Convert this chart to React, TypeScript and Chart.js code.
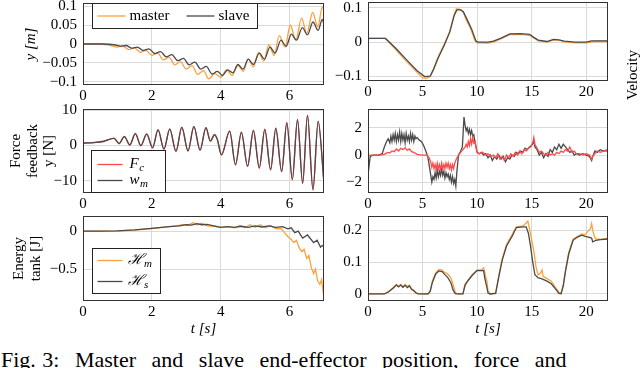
import React, { useEffect, useRef } from 'react';
import { Chart, registerables } from 'chart.js';

Chart.register(...registerables);

const FONT = '"Liberation Serif", "DejaVu Serif", serif';
Chart.defaults.font.family = FONT;
const ORANGE = '#fba13d';
const DARK = '#4a4a4a';
const RED = '#ff4a4a';
const GRID = '#dadada';
const FRAME = '#333333';

// ---------- tick labels ----------
const X_TICKS_LEFT = [0, 2, 4, 6];
const X_TICKS_RIGHT = [0, 5, 10, 15, 20];
const Y_TICKS_POS = [-0.1, -0.05, 0, 0.05, 0.1];
const Y_TICKS_FORCE = [-10, 0, 10];
const Y_TICKS_ENERGY = [-0.5, 0];
const Y_TICKS_VEL = [-0.1, 0, 0.1];
const Y_TICKS_FORCE_R = [-2, 0, 2];
const Y_TICKS_ENERGY_R = [0, 0.1, 0.2];

// ---------- legend labels ----------
const LEGEND_POS = ['master', 'slave'];
const LEGEND_FORCE = [['F', 'c'], ['w', 'm']];
const LEGEND_ENERGY = [['\u210B', 'm'], ['\u210B', 's']];

// ---------- left column: t in [0, 7] ----------
const POS_MASTER: [number, number][] = [
  [0, 0], [0.4, 0], [0.7, -0.002], [1.0, -0.008], [1.15, -0.005], [1.33, -0.015], [1.5, -0.01],
  [1.67, -0.022], [1.83, -0.017], [2.0, -0.03], [2.17, -0.024], [2.33, -0.042], [2.5, -0.035],
  [2.67, -0.055], [2.83, -0.047], [3.0, -0.066], [3.17, -0.057], [3.33, -0.08], [3.5, -0.07],
  [3.65, -0.092], [3.83, -0.078], [4.0, -0.088], [4.17, -0.068], [4.33, -0.083], [4.5, -0.056],
  [4.65, -0.072], [4.8, -0.04], [4.95, -0.06], [5.1, -0.022], [5.25, -0.045], [5.4, -0.002],
  [5.55, -0.03], [5.7, 0.022], [5.87, -0.008], [6.02, 0.05], [6.18, 0.01], [6.35, 0.068],
  [6.5, 0.028], [6.67, 0.083], [6.82, 0.045], [6.95, 0.097], [7.0, 0.088],
];
const POS_SLAVE: [number, number][] = [
  [0, 0], [0.6, 0], [0.9, -0.002], [1.1, -0.006], [1.25, -0.004], [1.42, -0.011], [1.58, -0.008],
  [1.75, -0.017], [1.92, -0.013], [2.08, -0.025], [2.25, -0.02], [2.42, -0.034], [2.58, -0.028],
  [2.75, -0.044], [2.92, -0.038], [3.08, -0.055], [3.25, -0.048], [3.42, -0.066], [3.58, -0.059],
  [3.75, -0.079], [3.9, -0.072], [4.05, -0.083], [4.2, -0.068], [4.35, -0.076], [4.5, -0.054],
  [4.65, -0.066], [4.8, -0.04], [4.95, -0.054], [5.12, -0.024], [5.27, -0.04], [5.43, -0.008],
  [5.58, -0.024], [5.75, 0.01], [5.9, -0.006], [6.05, 0.026], [6.2, 0.01], [6.37, 0.043],
  [6.52, 0.024], [6.68, 0.058], [6.83, 0.036], [6.95, 0.065], [7.0, 0.05],
];
const FORCE_FC: [number, number][] = [
  [0, 0.6], [0.3, 0.8], [0.6, 1.1], [0.9, 2.1], [1.05, 0.5], [1.2, 2.6], [1.36, 0.1], [1.52, 3.4],
  [1.68, -0.1], [1.85, 3.3], [2.02, -0.7], [2.18, 4.5], [2.35, -1.1], [2.52, 4.7], [2.7, -1.7],
  [2.87, 5.2], [3.05, -1.6], [3.22, 5.4], [3.4, -1.4], [3.57, 5.1], [3.7, 1.2], [3.82, 3.1],
  [3.9, 1.7], [4.02, -2.7], [4.26, 4.1], [4.43, -5.5], [4.6, 3.8], [4.78, -5.9], [4.95, 4.3],
  [5.12, -6.4], [5.28, 4.6], [5.45, -6.9], [5.6, 4.9], [5.77, -7.4], [5.92, 6.5], [6.08, -9.7],
  [6.23, 7.4], [6.38, -10.7], [6.52, 8.6], [6.68, -12.6], [6.83, 6.9], [7.0, -10.8],
];
const FORCE_WM: [number, number][] = [
  [0, 0.7], [0.3, 0.8], [0.6, 1.2], [0.9, 2.0], [1.05, 0.6], [1.2, 2.5], [1.36, 0.2], [1.52, 3.3],
  [1.68, 0.0], [1.85, 3.2], [2.02, -0.6], [2.18, 4.4], [2.35, -1.0], [2.52, 4.6], [2.7, -1.6],
  [2.87, 5.1], [3.05, -1.5], [3.22, 5.3], [3.4, -1.3], [3.57, 5.0], [3.7, 1.3], [3.82, 3.0],
  [3.9, 1.8], [4.02, -2.6], [4.26, 4.0], [4.43, -5.4], [4.6, 3.7], [4.78, -5.8], [4.95, 4.2],
  [5.12, -6.3], [5.28, 4.5], [5.45, -6.8], [5.6, 4.8], [5.77, -7.3], [5.92, 6.4], [6.08, -9.6],
  [6.23, 7.3], [6.38, -10.6], [6.52, 8.5], [6.68, -12.4], [6.83, 6.8], [7.0, -10.5],
];
const ENERGY_M: [number, number][] = [
  [0, 0], [0.5, 0], [1, 0.003], [1.5, 0.015], [2, 0.035], [2.3, 0.05], [2.5, 0.06], [2.7, 0.07],
  [2.9, 0.085], [3.05, 0.075], [3.2, 0.115], [3.3, 0.08], [3.45, 0.105], [3.6, 0.07], [3.8, 0.065],
  [4.0, 0.05], [4.2, 0.06], [4.4, 0.045], [4.55, 0.075], [4.7, 0.045], [4.85, 0.085], [5.0, 0.05],
  [5.15, 0.085], [5.3, 0.045], [5.45, 0.075], [5.6, 0.03], [5.75, 0.035], [5.85, -0.02],
  [5.95, -0.07], [6.03, -0.1], [6.13, -0.15], [6.2, -0.12], [6.28, -0.22], [6.36, -0.27],
  [6.42, -0.24], [6.5, -0.36], [6.56, -0.32], [6.63, -0.48], [6.7, -0.56], [6.75, -0.5],
  [6.82, -0.66], [6.88, -0.7], [6.93, -0.64], [7.0, -0.88],
];
const ENERGY_S: [number, number][] = [
  [0, 0], [0.5, 0], [1, 0.005], [1.5, 0.018], [2, 0.038], [2.5, 0.06], [2.8, 0.07], [3.0, 0.085],
  [3.15, 0.08], [3.3, 0.1], [3.45, 0.085], [3.6, 0.09], [3.8, 0.07], [4.0, 0.05], [4.2, 0.06],
  [4.4, 0.05], [4.6, 0.065], [4.8, 0.05], [5.0, 0.07], [5.2, 0.055], [5.4, 0.07], [5.6, 0.05],
  [5.8, 0.06], [5.95, 0.03], [6.05, 0.045], [6.15, -0.02], [6.25, 0.0], [6.38, -0.09],
  [6.52, -0.05], [6.7, -0.15], [6.8, -0.12], [6.9, -0.21], [6.95, -0.19], [7.0, -0.2],
];

// ---------- right column: t in [0, 22] ----------
const VEL_M: [number, number][] = [
  [0, 0.01], [0.3, 0.011], [1.5, 0.011], [1.7, 0.008], [2.5, -0.02], [3.5, -0.055], [4.5, -0.088],
  [5.0, -0.103], [5.3, -0.106], [5.7, -0.1], [6.0, -0.078], [6.4, -0.045], [7.0, -0.005],
  [7.5, 0.032], [7.9, 0.08], [8.1, 0.097], [8.4, 0.096], [8.7, 0.09], [9.0, 0.065], [9.4, 0.04],
  [9.8, 0.005], [10.0, -0.002], [11.0, -0.003], [11.5, 0.0], [12.2, 0.01], [13.0, 0.022],
  [14.0, 0.023], [14.8, 0.02], [15.2, 0.012], [15.6, 0.004], [16.4, 0.0], [17.0, 0.006],
  [17.5, 0.006], [18.0, 0.001], [19.0, -0.002], [20.0, -0.002], [20.6, 0.001], [21.0, 0.002],
  [22.0, 0.002],
];
const VEL_S: [number, number][] = [
  [0, 0.011], [1.6, 0.011], [2.5, -0.016], [3.5, -0.05], [4.5, -0.083], [5.2, -0.1], [5.7, -0.099],
  [6.0, -0.08], [6.4, -0.048], [7.0, -0.008], [7.5, 0.03], [7.9, 0.078], [8.15, 0.094],
  [8.5, 0.094], [8.75, 0.088], [9.1, 0.065], [9.5, 0.038], [9.9, 0.003], [10.1, 0.0], [11.0, 0.0],
  [11.5, 0.003], [12.2, 0.012], [13.0, 0.024], [14.0, 0.025], [14.8, 0.023], [15.2, 0.014],
  [15.6, 0.006], [16.4, 0.002], [17.0, 0.008], [17.5, 0.007], [18.0, 0.003], [19.0, 0.0],
  [20.0, 0.0], [20.5, 0.004], [21.0, 0.004], [22.0, 0.004],
];
const FORCE_WM_R: [number, number][] = [
  [0, -0.1], [0.1, -0.8], [0.2, -0.1], [0.5, 0], [1.0, 0], [1.3, 0.1], [1.5, 0.6], [1.7, 1.0],
  [1.85, 1.2], [2.0, 0.9], [2.1, 1.4], [2.2, 1.0], [2.3, 1.5], [2.4, 1.1], [2.5, 1.6], [2.6, 1.0],
  [2.7, 1.5], [2.8, 1.1], [2.9, 1.7], [3.0, 1.0], [3.1, 1.6], [3.2, 1.1], [3.3, 1.5], [3.4, 0.9],
  [3.5, 1.6], [3.6, 1.1], [3.7, 1.4], [3.8, 1.0], [3.9, 1.6], [4.0, 1.1], [4.1, 1.5], [4.2, 1.0],
  [4.3, 1.4], [4.4, 1.2], [4.5, 1.3], [4.7, 1.1], [4.9, 1.0], [5.1, 0.7], [5.3, 0.3], [5.5, -0.2],
  [5.7, -1.2], [5.85, -2.0], [5.95, -1.6], [6.05, -1.8], [6.15, -1.3], [6.25, -1.7], [6.35, -1.1],
  [6.45, -1.6], [6.55, -1.2], [6.65, -1.5], [6.75, -1.0], [6.85, -1.5], [6.95, -1.2], [7.05, -1.7],
  [7.15, -1.3], [7.25, -1.6], [7.35, -1.4], [7.45, -1.8], [7.55, -1.5], [7.65, -2.0], [7.75, -1.6],
  [7.85, -2.1], [7.95, -1.8], [8.05, -2.3], [8.15, -1.2], [8.3, 0.0], [8.5, 0.3], [8.65, 0.6],
  [8.8, 2.8], [8.9, 2.2], [9.0, 1.8], [9.1, 2.0], [9.2, 1.6], [9.3, 1.9], [9.4, 1.5], [9.5, 1.8],
  [9.6, 1.4], [9.7, 1.5], [9.8, 1.0], [9.9, 0.6], [10.0, 0.2], [10.2, 0.1], [10.4, 0.2], [10.6, 0.0],
  [10.8, 0.1], [11.0, -0.2], [11.2, 0.0], [11.4, -0.4], [11.6, -0.1], [11.8, -0.3], [12.0, 0.0],
  [12.2, -0.3], [12.4, -0.1], [12.6, -0.5], [12.8, -0.2], [13.0, -0.3], [13.2, 0.0], [13.4, -0.1],
  [13.6, 0.2], [13.8, 0.1], [14.0, 0.3], [14.2, 0.2], [14.4, 0.5], [14.6, 0.4], [14.8, 0.6],
  [15.0, 0.7], [15.2, 1.0], [15.3, 0.6], [15.5, 0.4], [15.7, 0.0], [15.9, 0.2], [16.1, -0.2],
  [16.3, 0.1], [16.5, -0.1], [16.7, 0.4], [16.9, 0.2], [17.1, 0.6], [17.3, 0.4], [17.5, 0.8],
  [17.7, 0.5], [17.9, 0.8], [18.1, 0.6], [18.3, 0.4], [18.5, 0.2], [18.7, 0.3], [18.9, 0.0],
  [19.1, 0.1], [19.4, 0.0], [19.7, 0.1], [20.0, 0.0], [20.3, -0.1], [20.5, -0.4], [20.6, -0.1],
  [20.8, 0.3], [21.0, 0.2], [21.3, 0.4], [21.6, 0.3], [22.0, 0.4],
];
const FORCE_FC_R: [number, number][] = [
  [0, 0], [1.0, 0], [1.5, 0.05], [1.8, 0.2], [2.0, 0.15], [2.2, 0.3], [2.4, 0.25], [2.6, 0.45],
  [2.8, 0.3], [3.0, 0.5], [3.2, 0.4], [3.4, 0.55], [3.6, 0.35], [3.8, 0.45], [4.0, 0.25], [4.2, 0.2],
  [4.5, 0.05], [5.0, 0.0], [5.4, 0.0], [5.6, -0.2], [5.75, -0.5], [5.85, -0.9], [5.95, -0.6],
  [6.05, -1.0], [6.15, -0.7], [6.25, -1.1], [6.35, -0.6], [6.45, -1.0], [6.55, -0.7], [6.65, -1.1],
  [6.75, -0.6], [6.85, -1.0], [6.95, -0.7], [7.05, -1.0], [7.15, -0.6], [7.25, -0.9], [7.35, -0.6],
  [7.45, -1.0], [7.55, -0.7], [7.65, -1.1], [7.75, -0.7], [7.85, -1.0], [7.95, -0.6], [8.1, -0.3],
  [8.3, 0.0], [8.5, 0.2], [8.7, 0.4], [8.9, 0.6], [9.0, 0.8], [9.1, 0.6], [9.2, 1.0], [9.3, 0.7],
  [9.4, 1.2], [9.5, 0.8], [9.6, 1.3], [9.7, 0.9], [9.8, 1.0], [9.9, 0.6], [10.0, 0.2], [10.2, 0.1],
  [10.5, 0.2], [10.8, 0.0], [11.0, 0.1], [11.3, -0.1], [11.5, 0.0], [11.7, -0.2], [11.9, 0.1],
  [12.1, -0.3], [12.3, -0.1], [12.5, -0.4], [12.7, 0.0], [12.9, -0.2], [13.1, 0.1], [13.3, -0.1],
  [13.5, 0.2], [13.7, 0.0], [13.9, 0.3], [14.1, 0.1], [14.3, 0.4], [14.5, 0.3], [14.7, 0.5],
  [14.9, 0.6], [15.1, 0.9], [15.2, 1.3], [15.3, 0.8], [15.5, 0.5], [15.7, 0.2], [15.9, 0.3],
  [16.1, 0.1], [16.3, 0.0], [16.5, 0.2], [16.7, 0.0], [16.9, 0.1], [17.1, 0.0], [17.3, 0.2],
  [17.5, 0.1], [17.7, 0.3], [17.9, 0.2], [18.1, 0.4], [18.3, 0.3], [18.5, 0.6], [18.7, 0.2],
  [18.9, 0.3], [19.1, 0.1], [19.4, 0.1], [19.7, 0.0], [20.0, 0.1], [20.3, 0.0], [20.5, -0.3],
  [20.6, -0.1], [20.8, 0.1], [21.0, 0.3], [21.3, 0.2], [21.6, 0.3], [22.0, 0.3],
];
const ENERGY_M_R: [number, number][] = [
  [0, 0], [1.5, 0], [1.9, 0.008], [2.3, 0.02], [2.6, 0.03], [2.8, 0.024], [3.0, 0.03], [3.2, 0.022],
  [3.4, 0.03], [3.6, 0.024], [3.8, 0.028], [4.0, 0.016], [4.2, 0.012], [4.4, 0.004], [4.6, 0.001],
  [5.5, 0.0], [5.7, 0.01], [5.9, 0.04], [6.2, 0.065], [6.5, 0.077], [6.8, 0.075], [7.0, 0.068],
  [7.3, 0.063], [7.6, 0.05], [7.8, 0.03], [8.0, 0.005], [8.2, 0.0], [8.7, 0.0], [8.9, 0.03],
  [9.2, 0.045], [9.6, 0.062], [10.0, 0.075], [10.4, 0.075], [10.6, 0.082], [10.75, 0.06],
  [10.9, 0.04], [11.0, 0.01], [11.2, 0.0], [11.7, 0.003], [12.0, 0.06], [12.3, 0.11], [12.7, 0.155],
  [13.2, 0.185], [13.6, 0.21], [14.2, 0.213], [14.5, 0.222], [14.65, 0.228], [14.8, 0.205],
  [15.0, 0.17], [15.2, 0.135], [15.4, 0.085], [15.6, 0.06], [15.8, 0.065], [15.95, 0.075],
  [16.05, 0.055], [16.4, 0.048], [16.8, 0.04], [17.2, 0.02], [17.5, 0.005], [17.7, 0.003],
  [17.9, 0.03], [18.1, 0.075], [18.4, 0.13], [18.8, 0.172], [19.2, 0.18], [19.6, 0.188],
  [19.9, 0.185], [20.2, 0.198], [20.4, 0.205], [20.5, 0.22], [20.6, 0.2], [20.75, 0.18],
  [20.9, 0.172], [21.3, 0.171], [22.0, 0.174],
];
const ENERGY_S_R: [number, number][] = [
  [0, 0], [1.5, 0], [1.9, 0.007], [2.3, 0.018], [2.6, 0.028], [2.8, 0.022], [3.0, 0.028],
  [3.2, 0.021], [3.4, 0.027], [3.6, 0.02], [3.8, 0.025], [4.0, 0.014], [4.2, 0.01], [4.4, 0.003],
  [4.6, 0.0], [5.5, 0.0], [5.7, 0.008], [5.9, 0.036], [6.2, 0.062], [6.5, 0.072], [6.8, 0.07],
  [7.0, 0.062], [7.3, 0.052], [7.6, 0.035], [7.8, 0.012], [8.0, 0.001], [8.2, 0.0], [8.7, 0.0],
  [8.9, 0.028], [9.2, 0.043], [9.6, 0.06], [10.0, 0.073], [10.6, 0.073], [10.7, 0.05], [10.9, 0.02],
  [11.0, 0.003], [11.2, 0.0], [11.7, 0.002], [12.0, 0.055], [12.3, 0.105], [12.7, 0.15],
  [13.2, 0.18], [13.6, 0.208], [14.2, 0.21], [14.5, 0.21], [14.7, 0.19], [14.9, 0.15], [15.1, 0.1],
  [15.3, 0.06], [15.6, 0.05], [15.9, 0.048], [16.4, 0.04], [16.8, 0.032], [17.2, 0.015],
  [17.5, 0.002], [17.7, 0.001], [17.9, 0.025], [18.1, 0.07], [18.4, 0.125], [18.8, 0.168],
  [19.2, 0.178], [19.6, 0.184], [19.9, 0.18], [20.2, 0.178], [20.5, 0.175], [20.6, 0.163],
  [20.9, 0.168], [21.3, 0.17], [22.0, 0.172],
];

// ---------- helpers ----------
type Series = { data: [number, number][]; color: string; order: number; smooth?: boolean };
type LegendItem = { color: string; text: string; sub?: string; italic?: boolean; dx: number; dy: number };
type LegendSpec = { x: number; y: number; w: number; h: number; len: number; gap: number; items: LegendItem[] };
type Note = { text: string; x: number; y: number };
type Panel = {
  left: number; top: number; w: number; h: number;
  pad: { top: number; right: number; bottom: number; left: number };
  yWidth: number; xHeight: number;
  xMin: number; xMax: number; yMin: number; yMax: number;
  xTicks: number[]; yTicks: number[];
  series: Series[];
  yTitle?: { text: string | string[]; italic?: boolean; pad: number };
  xTitle?: { text: string; pad: number };
  legend?: LegendSpec;
  notes?: Note[];
};

const fmt = (v: number) => (v < 0 ? '\u2212' + String(-v) : String(v));

const framePlugin = {
  id: 'frame',
  afterDatasetsDraw(chart: any) {
    const { ctx, chartArea: a } = chart;
    ctx.save();
    ctx.strokeStyle = FRAME;
    ctx.lineWidth = 1;
    ctx.strokeRect(Math.round(a.left) + 0.5, Math.round(a.top) + 0.5, Math.round(a.right - a.left) - 1, Math.round(a.bottom - a.top) - 1);
    ctx.restore();
  },
};

function legendPlugin(spec: LegendSpec) {
  return {
    id: 'boxLegend',
    afterDraw(chart: any) {
      const { ctx, chartArea: a } = chart;
      const x = Math.round(a.left + spec.x) + 0.5;
      const y = Math.round(a.top + spec.y) + 0.5;
      ctx.save();
      ctx.fillStyle = '#ffffff';
      ctx.fillRect(x, y, spec.w, spec.h);
      ctx.strokeStyle = '#222222';
      ctx.lineWidth = 1;
      ctx.strokeRect(x, y, spec.w, spec.h);
      for (const it of spec.items) {
        const ly = y + it.dy;
        ctx.strokeStyle = it.color;
        ctx.lineWidth = 1.3;
        ctx.beginPath();
        ctx.moveTo(x + it.dx, ly);
        ctx.lineTo(x + it.dx + spec.len, ly);
        ctx.stroke();
        ctx.fillStyle = '#000';
        ctx.textBaseline = 'middle';
        ctx.textAlign = 'left';
        ctx.font = `${it.italic ? 'italic ' : ''}15px ${FONT}`;
        const tx = x + it.dx + spec.len + spec.gap;
        ctx.fillText(it.text, tx, ly);
        if (it.sub) {
          const w = ctx.measureText(it.text).width;
          ctx.font = `italic 11px ${FONT}`;
          ctx.fillText(it.sub, tx + w + 0.5, ly + 4);
        }
      }
      ctx.restore();
    },
  };
}

function notesPlugin(notes: Note[]) {
  return {
    id: 'notes',
    afterDraw(chart: any) {
      const { ctx } = chart;
      ctx.save();
      ctx.fillStyle = '#000';
      ctx.font = `15px ${FONT}`;
      ctx.textAlign = 'center';
      ctx.textBaseline = 'middle';
      for (const n of notes) {
        ctx.save();
        ctx.translate(n.x, n.y);
        ctx.rotate(-Math.PI / 2);
        ctx.fillText(n.text, 0, 0);
        ctx.restore();
      }
      ctx.restore();
    },
  };
}

function buildConfig(s: Panel): any {
  const tickFont = { family: FONT, size: 15 };
  const plugins: any[] = [framePlugin];
  if (s.legend) plugins.push(legendPlugin(s.legend));
  if (s.notes) plugins.push(notesPlugin(s.notes));
  return {
    type: 'line',
    data: {
      datasets: s.series.map((d) => ({
        data: d.data.map(([x, y]) => ({ x, y })),
        borderColor: d.color,
        backgroundColor: d.color,
        borderWidth: 1.3,
        pointRadius: 0,
        fill: false,
        tension: d.smooth ? 0.4 : 0,
        cubicInterpolationMode: d.smooth ? 'monotone' : 'default',
        order: d.order,
      })),
    },
    options: {
      responsive: false,
      maintainAspectRatio: false,
      animation: false,
      events: [],
      layout: { padding: s.pad },
      plugins: { legend: { display: false }, tooltip: { enabled: false } },
      scales: {
        x: {
          type: 'linear',
          min: s.xMin,
          max: s.xMax,
          afterBuildTicks: (sc: any) => { sc.ticks = s.xTicks.map((v) => ({ value: v })); },
          afterFit: (sc: any) => { sc.height = s.xHeight; sc.paddingLeft = 0; sc.paddingRight = 0; },
          grid: { color: GRID, lineWidth: 1, drawTicks: false },
          border: { display: false },
          ticks: { padding: 2, color: '#000', font: tickFont, autoSkip: false, maxRotation: 0, callback: (v: number) => fmt(v) },
          title: s.xTitle
            ? { display: true, text: s.xTitle.text, color: '#000', font: { family: FONT, size: 15, style: 'italic', lineHeight: 1.1 }, padding: { top: 0, bottom: s.xTitle.pad } }
            : { display: false },
        },
        y: {
          type: 'linear',
          min: s.yMin,
          max: s.yMax,
          afterBuildTicks: (sc: any) => { sc.ticks = s.yTicks.map((v) => ({ value: v })); },
          afterFit: (sc: any) => { sc.width = s.yWidth; sc.paddingTop = 0; sc.paddingBottom = 0; },
          grid: { color: GRID, lineWidth: 1, drawTicks: false },
          border: { display: false },
          ticks: { padding: 6, color: '#000', font: tickFont, autoSkip: false, callback: (v: number) => fmt(v) },
          title: s.yTitle
            ? { display: true, text: s.yTitle.text, color: '#000', font: { family: FONT, size: 15, style: s.yTitle.italic ? 'italic' : 'normal', lineHeight: 1.1 }, padding: { top: s.yTitle.pad, bottom: 0 } }
            : { display: false },
        },
      },
    },
    plugins,
  };
}

// ---------- panels ----------
const LEFT_PAD = (top: number) => ({ top, right: 6, bottom: 0, left: 0 });
const RIGHT_PAD = (top: number) => ({ top, right: 32, bottom: 0, left: 0 });

const PANELS: Panel[] = [
  {
    left: 0, top: 0, w: 330, h: 103, pad: LEFT_PAD(3), yWidth: 83, xHeight: 18,
    xMin: 0, xMax: 7, yMin: -0.108, yMax: 0.108, xTicks: X_TICKS_LEFT, yTicks: Y_TICKS_POS,
    series: [
      { data: POS_MASTER, color: ORANGE, order: 2, smooth: true },
      { data: POS_SLAVE, color: DARK, order: 1, smooth: true },
    ],
    yTitle: { text: 'y [m]', italic: true, pad: 23 },
    legend: {
      x: 9, y: 0, w: 165, h: 25, len: 28, gap: 4,
      items: [
        { color: ORANGE, text: LEGEND_POS[0], dx: 5, dy: 12.5 },
        { color: DARK, text: LEGEND_POS[1], dx: 94, dy: 12.5 },
      ],
    },
  },
  {
    left: 0, top: 100, w: 330, h: 111, pad: LEFT_PAD(9), yWidth: 83, xHeight: 18,
    xMin: 0, xMax: 7, yMin: -13.4, yMax: 10.3, xTicks: X_TICKS_LEFT, yTicks: Y_TICKS_FORCE,
    series: [
      { data: FORCE_FC, color: RED, order: 2, smooth: true },
      { data: FORCE_WM, color: DARK, order: 1, smooth: true },
    ],
    yTitle: { text: ['Force', 'feedback', 'y [N]'], pad: 8 },
    legend: {
      x: 8, y: 41, w: 74, h: 42, len: 25, gap: 7,
      items: [
        { color: RED, text: LEGEND_FORCE[0][0], sub: LEGEND_FORCE[0][1], italic: true, dx: 6, dy: 14 },
        { color: DARK, text: LEGEND_FORCE[1][0], sub: LEGEND_FORCE[1][1], italic: true, dx: 6, dy: 30 },
      ],
    },
  },
  {
    left: 0, top: 205, w: 330, h: 135, pad: LEFT_PAD(11), yWidth: 83, xHeight: 39,
    xMin: 0, xMax: 7, yMin: -0.92, yMax: 0.2, xTicks: X_TICKS_LEFT, yTicks: Y_TICKS_ENERGY,
    series: [
      { data: ENERGY_M, color: ORANGE, order: 2 },
      { data: ENERGY_S, color: DARK, order: 1 },
    ],
    yTitle: { text: ['Energy', 'tank [J]'], pad: 11 },
    xTitle: { text: 't [s]', pad: 3 },
    legend: {
      x: 9, y: 32, w: 68, h: 45, len: 25, gap: 5,
      items: [
        { color: ORANGE, text: LEGEND_ENERGY[0][0], sub: LEGEND_ENERGY[0][1], italic: true, dx: 5, dy: 12 },
        { color: DARK, text: LEGEND_ENERGY[1][0], sub: LEGEND_ENERGY[1][1], italic: true, dx: 5, dy: 33 },
      ],
    },
  },
  {
    left: 330, top: 0, w: 310, h: 100, pad: RIGHT_PAD(2), yWidth: 38, xHeight: 19,
    xMin: 0, xMax: 22, yMin: -0.113, yMax: 0.117, xTicks: X_TICKS_RIGHT, yTicks: Y_TICKS_VEL,
    series: [
      { data: VEL_M, color: ORANGE, order: 2 },
      { data: VEL_S, color: DARK, order: 1 },
    ],
    notes: [{ text: 'Velocity', x: 303, y: 75 }],
  },
  {
    left: 330, top: 100, w: 310, h: 111, pad: RIGHT_PAD(9), yWidth: 38, xHeight: 18,
    xMin: 0, xMax: 22, yMin: -2.8, yMax: 3.4, xTicks: X_TICKS_RIGHT, yTicks: Y_TICKS_FORCE_R,
    series: [
      { data: FORCE_WM_R, color: DARK, order: 2 },
      { data: FORCE_FC_R, color: RED, order: 1 },
    ],
  },
  {
    left: 330, top: 205, w: 310, h: 135, pad: RIGHT_PAD(11), yWidth: 38, xHeight: 39,
    xMin: 0, xMax: 22, yMin: -0.022, yMax: 0.244, xTicks: X_TICKS_RIGHT, yTicks: Y_TICKS_ENERGY_R,
    series: [
      { data: ENERGY_M_R, color: ORANGE, order: 2 },
      { data: ENERGY_S_R, color: DARK, order: 1 },
    ],
    xTitle: { text: 't [s]', pad: 3 },
  },
];

const CAPTION_LABEL = 'Fig. 3:';
const CAPTION_TEXT = 'Master and slave end-effector position, force and';

function ChartBox({ spec }: { spec: Panel }) {
  const ref = useRef<HTMLCanvasElement>(null);
  useEffect(() => {
    if (!ref.current) return;
    const chart = new Chart(ref.current, buildConfig(spec));
    return () => chart.destroy();
  }, [spec]);
  return (
    <canvas
      ref={ref}
      width={spec.w}
      height={spec.h}
      style={{ position: 'absolute', left: spec.left, top: spec.top, width: spec.w, height: spec.h }}
    />
  );
}

export default function App() {
  return (
    <div
      style={{
        position: 'fixed', left: 0, top: 0, width: 640, height: 368,
        overflow: 'hidden', background: '#fff',
      }}
    >
      {PANELS.map((p, i) => (
        <ChartBox key={i} spec={p} />
      ))}
      <div
        style={{
          position: 'absolute', left: 1, top: 349, width: 700,
          fontFamily: FONT, fontSize: 22, lineHeight: '22px', color: '#000',
          whiteSpace: 'nowrap',
        }}
      >
        <span style={{ wordSpacing: 1 }}>{CAPTION_LABEL}</span>
        <span style={{ wordSpacing: 10 }}>{' ' + CAPTION_TEXT}</span>
      </div>
    </div>
  );
}
